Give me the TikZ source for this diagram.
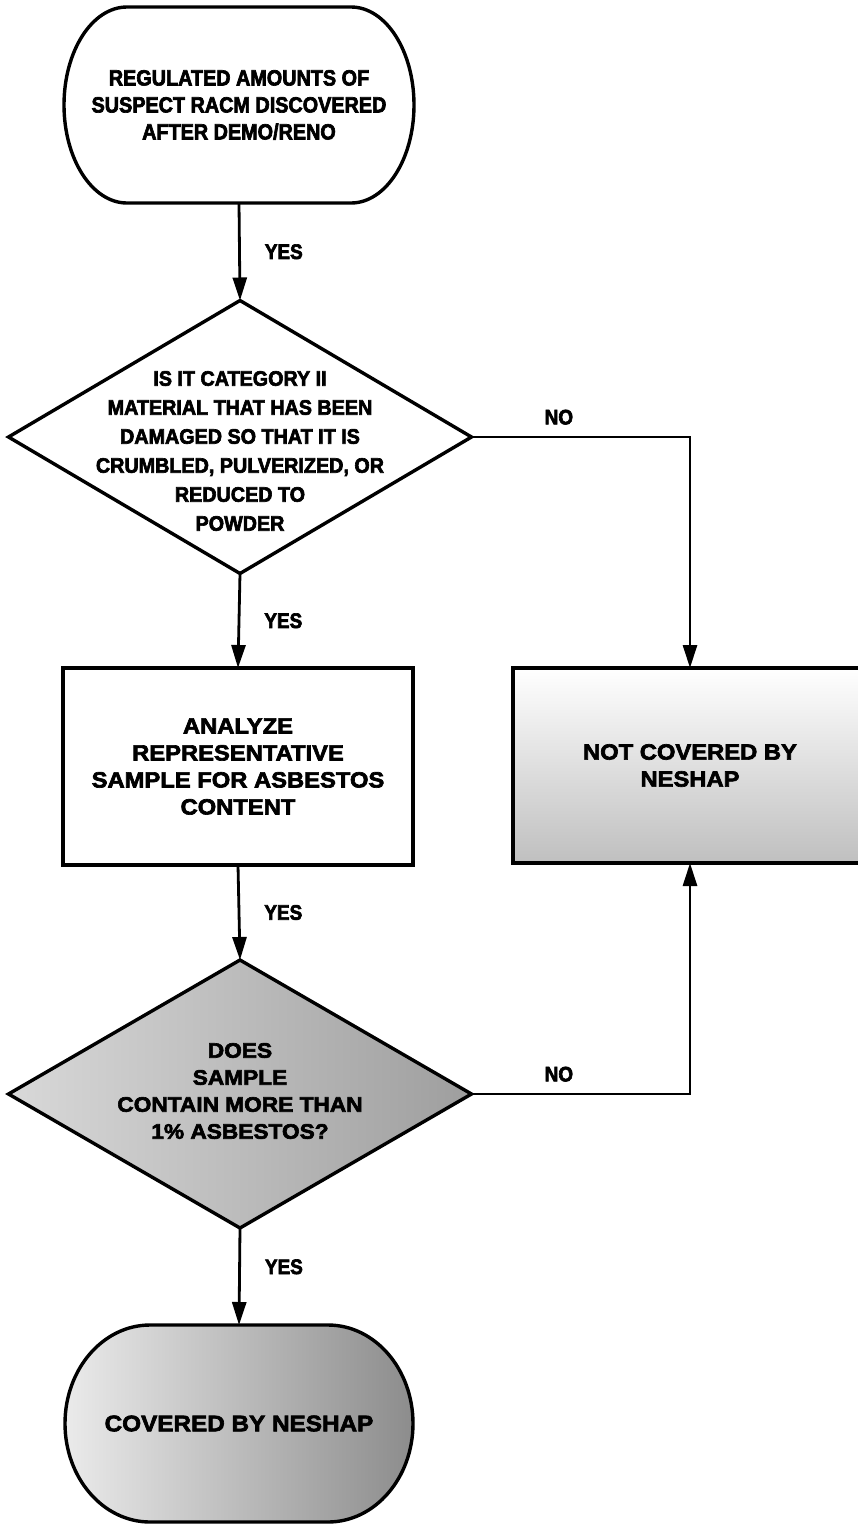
\documentclass[tikz,border=0pt]{standalone}
\usepackage{fontspec}
\setmainfont{Liberation Sans}
\newfontfamily\narrowface[FakeStretch=0.9,FakeBold=3]{Liberation Sans}
\newfontfamily\midface[FakeStretch=0.94,FakeBold=3]{Liberation Sans}
\newfontfamily\wideface[FakeStretch=1.08,FakeBold=3]{Liberation Sans}
\usetikzlibrary{arrows.meta,shapes.geometric,backgrounds,calc}

% capsule outline with elliptical ends around a rectangular node
% #1 node name, #2 horizontal radius of the ends, #3 half height, #4 path options
\newcommand\capsuleoutline[4]{%
  \path[#4] ([xshift=#2]#1.north west) -- ([xshift=-#2]#1.north east)
    arc[start angle=90,end angle=-90,x radius=#2,y radius=#3]
    -- ([xshift=#2]#1.south west)
    arc[start angle=270,end angle=90,x radius=#2,y radius=#3] -- cycle;}

\begin{document}
\begin{tikzpicture}[x=1pt,y=1pt,
  border/.style={line width=3.4pt},
  conn/.style={line width=2.8pt,-{Triangle[length=23pt,width=14pt]}},
  lbl/.style={font={\narrowface\bfseries\fontsize{21}{25}\selectfont},inner sep=0pt},
  termbox/.style={rectangle,minimum width=350pt,minimum height=196pt,
    inner sep=0pt,outer sep=0pt,align=center},
  procbox/.style={rectangle,draw,border,minimum width=350pt,minimum height=197pt,
    inner sep=0pt,outer sep=0pt,align=center,
    font={\wideface\bfseries\fontsize{22}{27}\selectfont}},
  decision/.style={diamond,draw,border,minimum width=463pt,minimum height=273pt,
    inner sep=0pt,outer sep=0pt},
  dtext/.style={align=center,inner sep=0pt},
]
\begin{pgfonlayer}{background}
  \fill[white] (0,0) rectangle (858,-1524);
\end{pgfonlayer}
\useasboundingbox (0,0) rectangle (858,-1524);

% start
\node[termbox,font={\narrowface\bfseries\fontsize{22}{27}\selectfont}] (st) at (239,-105)
  {REGULATED AMOUNTS OF\\SUSPECT RACM DISCOVERED\\AFTER DEMO/RENO};
\capsuleoutline{st}{63pt}{98pt}{draw,border}

% first question
\node[decision,label={[dtext,yshift=-14pt,font={\midface\bfseries\fontsize{21}{29}\selectfont}]center:{IS IT CATEGORY II\\MATERIAL THAT HAS BEEN\\DAMAGED SO THAT IT IS\\CRUMBLED, PULVERIZED, OR\\REDUCED TO\\POWDER}}] (d1) at (240,-437) {};

% analysis step
\node[procbox] (an) at (238,-766.5)
  {ANALYZE\\REPRESENTATIVE\\SAMPLE FOR ASBESTOS\\CONTENT};

% not covered outcome
\node[procbox,minimum width=354pt,minimum height=195pt,
  top color=white,bottom color=black!25] (nc) at (690,-765.5)
  {NOT COVERED BY\\NESHAP};

% second question
\node[decision,minimum height=268pt,left color=black!15,right color=black!38,
  label={[dtext,yshift=3pt,font={\wideface\bfseries\fontsize{21}{27}\selectfont}]center:{DOES\\SAMPLE\\CONTAIN MORE THAN\\1\% ASBESTOS?}}] (d2) at (240,-1094) {};

% covered outcome
\node[termbox,minimum width=348pt,minimum height=197pt,
  font={\wideface\bfseries\fontsize{22.5}{27}\selectfont}] (cov) at (239,-1423.5)
  {COVERED BY NESHAP};
\begin{pgfonlayer}{background}
  \capsuleoutline{cov}{85pt}{98.5pt}{draw,border,left color=black!8,right color=black!45}
\end{pgfonlayer}

% connectors
\draw[conn] (st.south) -- (d1.north) node[lbl,midway,right=24pt] {YES};
\draw[conn] (d1.south) -- (an.north) node[lbl,midway,right=24pt] {YES};
\draw[conn] (d1.east) -| (nc.north) node[lbl,pos=0.2,above=11pt] {NO};
\draw[conn] (an.south) -- (d2.north) node[lbl,midway,right=24pt] {YES};
\draw[conn] (d2.east) -| (nc.south) node[lbl,pos=0.2,above=11pt] {NO};
\draw[conn] (d2.south) -- (cov.north) node[lbl,pos=0.4,right=24pt] {YES};
\end{tikzpicture}
\end{document}
